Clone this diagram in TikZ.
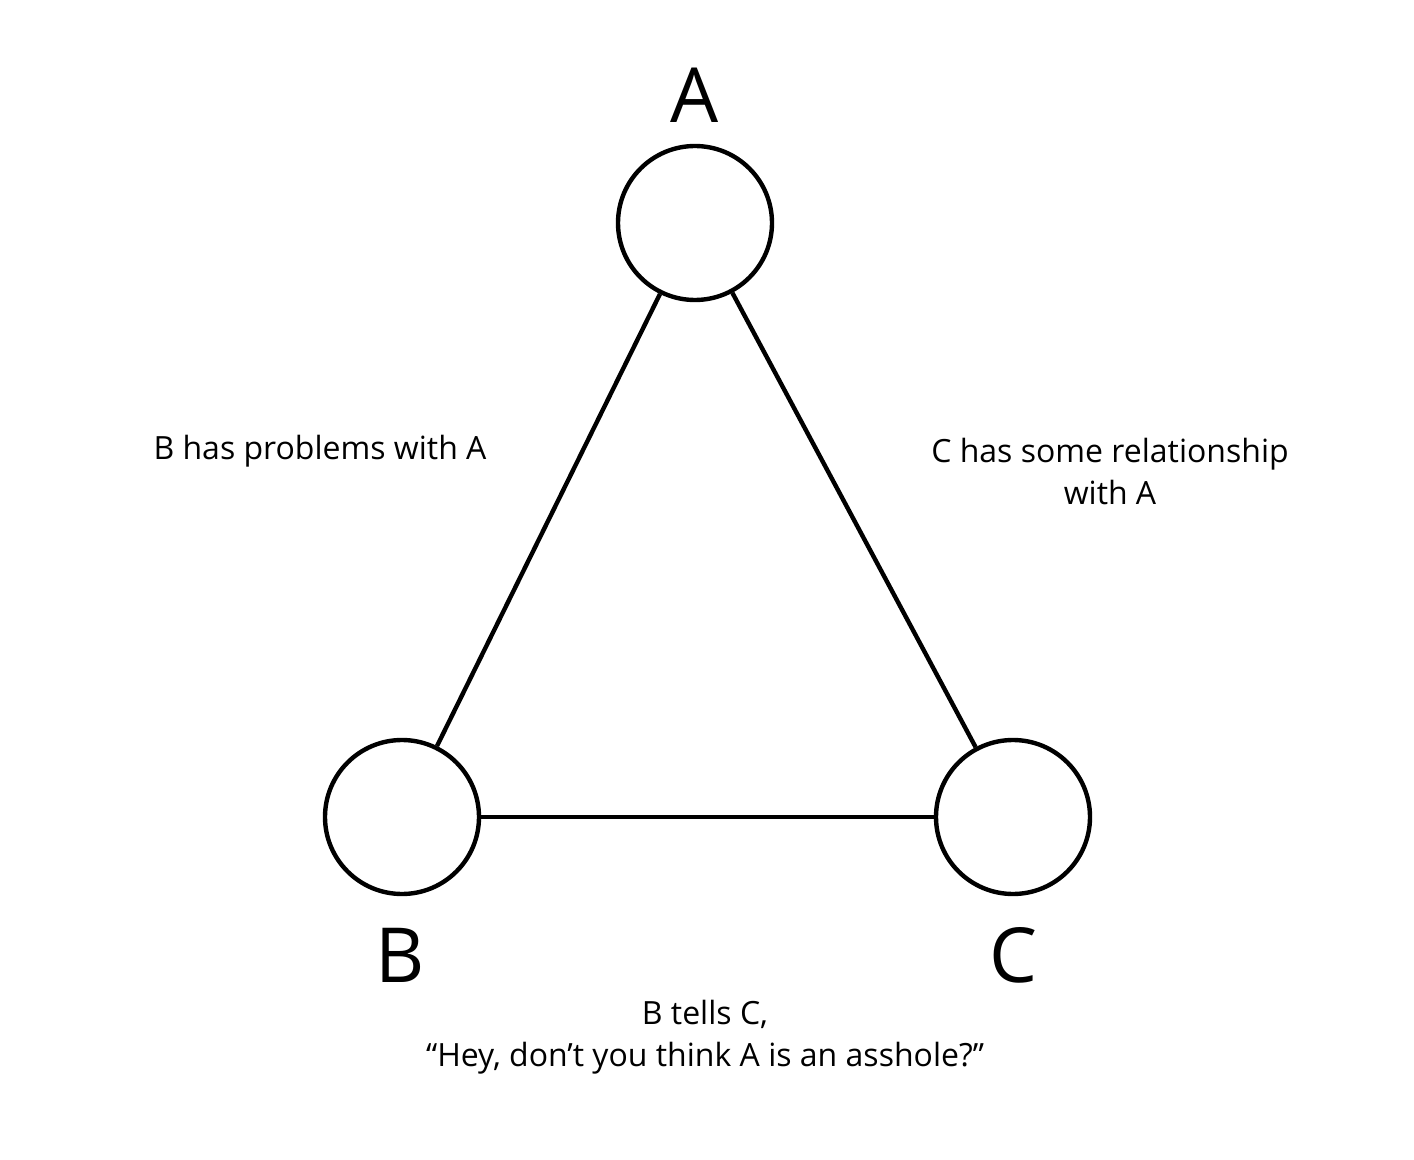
\documentclass[tikz,border=0pt]{standalone}
\usepackage{fontspec}
\setmainfont{Open Sans}
\usetikzlibrary{positioning}

\tikzstyle{person} = [circle, draw, line width=2.2pt, minimum size=77pt, inner sep=0pt]
\tikzstyle{letter} = [font=\fontsize{38}{44}\selectfont, inner sep=0pt]
\tikzstyle{remark} = [font=\fontsize{16}{21}\selectfont, align=center, inner sep=0pt]

\begin{document}
\begin{tikzpicture}[x=0.5pt, y=-0.5pt]
\useasboundingbox (0,0) rectangle (1414,1160);
\node[person] (a) at (695,223) {};
\node[person] (b) at (402,817) {};
\node[person] (c) at (1013,817) {};
\node[letter] (la) at (695,95) {A};
\node[letter] (lb) at (400,955) {B};
\node[letter] (lc) at (1013,955) {C};
\draw[line width=2.2pt] (a) -- (b);
\draw[line width=2.2pt] (a) -- (c);
\draw[line width=2.2pt] (b) -- (c);
\node[remark] (ab) at (320,451) {B has problems with A};
\node[remark] (ac) at (1110,472) {C has some relationship\\with A};
\node[remark] (bc) at (705,1037) {B tells C,\\``Hey, don’t you think A is an asshole?''};
\end{tikzpicture}
\end{document}
